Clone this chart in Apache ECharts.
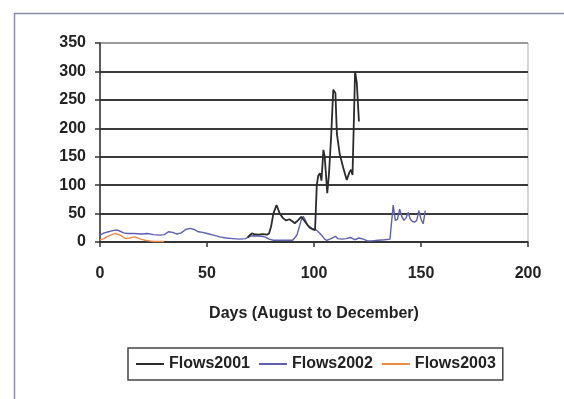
<!DOCTYPE html>
<html>
<head>
<meta charset="utf-8">
<script src="https://cdn.jsdelivr.net/npm/echarts@6/dist/echarts.min.js"></script>
<style>
html,body{margin:0;padding:0;background:#fff;}
#chart{width:564px;height:399px;}
</style>
</head>
<body>
<div id="chart"></div>
<script>
// ---- data ----
var seriesNames = ['Flows2001', 'Flows2002', 'Flows2003'];
var xTicks = [0, 50, 100, 150, 200];
var yTicks = [0, 50, 100, 150, 200, 250, 300, 350];

var days2001 = [69,70,71,72,74,76,78,79,80,81,82.5,84,85.5,87,88.5,90,91,92.5,94,95,96.5,98,99.5,100.5,101.3,102,102.8,103.5,104.4,105,106.2,107,108,109,110,110.7,112,113.7,115.3,116.5,117.3,118,119.2,120,121];
var flows2001 = [8,12,15,14,13,14,13,15,28,50,65,50,42,38,40,36,33,38,44,40,32,25,22,21,100,117,121,108,162,150,86,120,185,268,262,190,155,130,109,122,127,118,300,280,212];

var days2002 = [0,2,4,6,8,10,11,13,16,19,22,25,28,30,32,34,36,38,40,42,44,46,48,50,53,56,59,62,65,68,70,72,75,77,79,81,84,87,90,92,94,95,96,97,99,101,102,104,105,106,108,110,111,113,115,117,119,121,123,125,127,130,133,135.5,137,138,139,140,141,142,143,144,145,146,147,148,149,150,151,152];
var flows2002 = [12,16,18,20,21,18,16,15,15,14,15,13,12,13,18,17,14,16,22,24,22,18,17,15,12,9,7,6,5,6,10,11,10,9,5,3,3,3,3,12,38,45,38,30,24,21,18,10,5,3,6,10,6,5,6,8,4,7,5,2,2,3,4,5,65,38,40,58,45,38,42,52,40,36,35,38,55,40,32,55];

var days2003 = [0,2,3,5,7,8,10,11,12,14,16,17,19,21,23,25,28,30];
var flows2003 = [4,6,9,12,15,14,11,8,6,7,9,8,5,3,2,1,1,1];

function zip(xs, ys){ return xs.map(function(x,i){ return [x, ys[i]]; }); }

var font = 'Liberation Sans, Arial, sans-serif';
var chart = echarts.init(document.getElementById('chart'), null, {renderer:'canvas'});
chart.setOption({
  backgroundColor: '#ffffff',
  animation: false,
  graphic: [{
    type: 'rect',
    shape: {x: 14.5, y: 13.5, width: 600, height: 450},
    style: {fill: 'none', stroke: '#8c8ca8', lineWidth: 1.5},
    silent: true, z: -1
  }],
  grid: {left: 100, right: 36, top: 43, bottom: 157, show: true, borderColor: '#aaaaaa', borderWidth: 1},
  legend: {
    left: 128, top: 348,
    padding: [8, 7, 8, 8],
    itemGap: 9, itemWidth: 28, itemHeight: 2,
    icon: 'rect',
    borderColor: '#444', borderWidth: 1.5,
    textStyle: {fontFamily: font, fontWeight: 'bold', fontSize: 16, color: '#222'},
    data: seriesNames
  },
  xAxis: {
    type: 'value', min: xTicks[0], max: xTicks[xTicks.length-1], interval: 50,
    name: 'Days (August to December)', nameLocation: 'middle', nameGap: 64,
    nameTextStyle: {fontFamily: font, fontWeight: 'bold', fontSize: 16, color: '#222'},
    axisLine: {show: true, lineStyle: {color: '#333', width: 1.5}},
    axisTick: {show: true, inside: false, length: 5, lineStyle: {color: '#333', width: 1.5}},
    axisLabel: {margin: 24, fontFamily: font, fontWeight: 'bold', fontSize: 16, color: '#222'},
    splitLine: {show: false}
  },
  yAxis: {
    type: 'value', min: yTicks[0], max: yTicks[yTicks.length-1], interval: 50,
    axisLine: {show: true, lineStyle: {color: '#333', width: 1.5}},
    axisTick: {show: true, length: 5, lineStyle: {color: '#333', width: 1.5}},
    axisLabel: {margin: 14, fontFamily: font, fontWeight: 'bold', fontSize: 16, color: '#222'},
    splitLine: {show: true, lineStyle: {color: ['#3a3a3a','#3a3a3a','#3a3a3a','#3a3a3a','#3a3a3a','#3a3a3a','#3a3a3a','#9a9a9a'], width: 2}}
  },
  series: [
    {name: seriesNames[0], type: 'line', data: zip(days2001, flows2001), showSymbol: false, symbol: 'none', lineStyle: {color: '#2b2b2b', width: 1.8}, itemStyle: {color: '#2b2b2b'}, z: 3},
    {name: seriesNames[1], type: 'line', data: zip(days2002, flows2002), showSymbol: false, symbol: 'none', lineStyle: {color: '#5f5fb0', width: 1.4}, itemStyle: {color: '#5f5fb0'}, z: 2},
    {name: seriesNames[2], type: 'line', data: zip(days2003, flows2003), showSymbol: false, symbol: 'none', lineStyle: {color: '#ee8a48', width: 1.4}, itemStyle: {color: '#ee8a48'}, z: 4}
  ]
});
</script>
</body>
</html>
